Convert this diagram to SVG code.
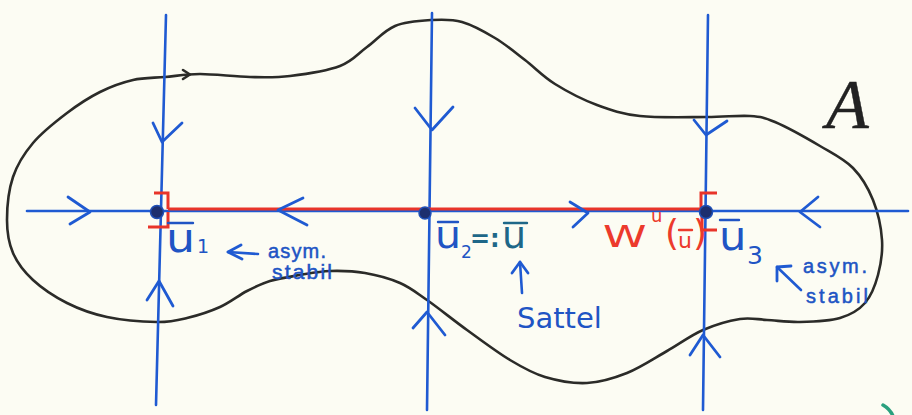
<svg xmlns="http://www.w3.org/2000/svg" width="912" height="415" viewBox="0 0 912 415">
  <style>
    .ax { stroke: #1f5ad2; stroke-width: 2.6; fill: none; stroke-linecap: round; stroke-linejoin: round; }
    .chev { stroke: #1f5ad2; stroke-width: 2.8; fill: none; stroke-linecap: round; stroke-linejoin: round; }
    .red { stroke: #e8342a; stroke-width: 3; fill: none; stroke-linecap: butt; stroke-linejoin: miter; }
    .curve { stroke: #2b2b28; stroke-width: 2.6; fill: none; stroke-linecap: round; stroke-linejoin: round; }
    .dot { fill: #1d2f6e; stroke: #1f4fb5; stroke-width: 1.5; }
    .lbl { font-family: "DejaVu Sans", "Liberation Sans", sans-serif; fill: #2054c4; }
    .lblt { font-family: "DejaVu Sans", "Liberation Sans", sans-serif; fill: #1e6788; }
    .rlbl { font-family: "DejaVu Sans", "Liberation Sans", sans-serif; fill: #ec3a2c; }
    .sm { font-family: "Liberation Sans", "DejaVu Sans", sans-serif; fill: #2054c4; stroke: #2054c4; stroke-width: 0.5; }
    .bar { stroke: #2054c4; stroke-width: 2.4; stroke-linecap: round; }
  </style>
  <rect x="0" y="0" width="912" height="415" fill="#fcfcf3"/>

  <!-- region A boundary -->
  <g id="regionA">
    <path class="curve" d="M165,77 C176.2,76 185.8,74 200,74 C214.2,74 235,76.7 250,77 C265,77.3 275,77.8 290,76 C305,74.2 327.2,70.8 340,66 C352.8,61.2 357.8,53.7 367,47 C376.2,40.3 384.2,30.5 395,26 C405.8,21.5 420.8,20.7 432,20 C443.2,19.3 451.5,19 462,22 C472.5,25 484.5,31.7 495,38 C505.5,44.3 515,52.3 525,60 C535,67.7 543,76.5 555,84 C567,91.5 582.8,99.7 597,105 C611.2,110.3 621.7,114 640,116 C658.3,118 688.7,117 707,117 C725.3,117 738.7,115.2 750,116 C761.3,116.8 763.3,117 775,122 C786.7,127 807,138.3 820,146 C833,153.7 844.2,159 853,168 C861.8,177 868.2,188 873,200 C877.8,212 881.2,227.5 882,240 C882.8,252.5 880.8,264.5 878,275 C875.2,285.5 871.3,295.8 865,303 C858.7,310.2 850.8,314.8 840,318 C829.2,321.2 812.2,321.7 800,322 C787.8,322.3 777,320.5 767,320 C757,319.5 750.7,317.3 740,319 C729.3,320.7 715.2,324.7 703,330 C690.8,335.3 679.7,343.8 667,351 C654.3,358.2 640.3,367.7 627,373 C613.7,378.3 600.7,382.3 587,383 C573.3,383.7 557.8,380.8 545,377 C532.2,373.2 523,367.8 510,360 C497,352.2 480.8,340 467,330 C453.2,320 438.2,307.8 427,300 C415.8,292.2 410.3,287.5 400,283 C389.7,278.5 376.7,275 365,273 C353.3,271 340.8,270.7 330,271 C319.2,271.3 310,273.3 300,275 C290,276.7 278.8,278.3 270,281 C261.2,283.7 255.3,286.7 247,291 C238.7,295.3 230,302.5 220,307 C210,311.5 197.5,315.5 187,318 C176.5,320.5 170.3,322.2 157,322 C143.7,321.8 122,320.2 107,317 C92,313.8 79.3,309.2 67,303 C54.7,296.8 42,288.3 33,280 C24,271.7 17.3,263 13,253 C8.7,243 7,232.7 7,220 C7,207.3 8.7,189.8 13,177 C17.3,164.2 24,153.7 33,143 C42,132.3 55.8,121.5 67,113 C78.2,104.5 89,97.5 100,92 C111,86.5 122.2,82.5 133,80 C143.8,77.5 153.8,78 165,77 Z"/>
    <polyline class="curve" points="183,70 190,74.5 183,79"/>
    <text x="826" y="128" font-family="Liberation Serif, serif" font-style="italic" font-size="70" fill="#222" stroke="#222" stroke-width="0.4">A</text>
  </g>

  <!-- connectors: axes, unstable manifold and flow arrows -->
  <g id="connectors">
    <line class="ax" x1="27" y1="211" x2="908" y2="211"/>
    <line class="ax" x1="166" y1="15" x2="156" y2="405"/>
    <line class="ax" x1="432" y1="13" x2="427" y2="410"/>
    <line class="ax" x1="708" y1="15" x2="703" y2="410"/>
    <line class="red" x1="168" y1="209" x2="702" y2="209"/>
    <polyline class="red" points="154,193 168,193 168,209"/>
    <polyline class="red" points="168,212 168,227 148,227"/>
    <polyline class="red" points="717,193 701,193 701,209"/>
    <polyline class="red" points="702,213 702,230 717,230"/>
    <polyline class="chev" points="68,197 90,212 70,224"/>
    <polyline class="chev" points="303,198 278,210 307,225"/>
    <polyline class="chev" points="570,202 588,213 573,227"/>
    <polyline class="chev" points="818,197 800,212 820,227"/>
    <polyline class="chev" points="153,123 162,142 182,123"/>
    <polyline class="chev" points="147,300 159,281 173,306"/>
    <polyline class="chev" points="415,108 432,130 453,107"/>
    <polyline class="chev" points="413,328 427,312 445,335"/>
    <polyline class="chev" points="694,120 706,135 727,121"/>
    <polyline class="chev" points="690,355 703,335 720,357"/>
  </g>

  <g id="u1">
    <circle class="dot" cx="157" cy="212" r="6.5"/>
    <line class="bar" x1="168" y1="223" x2="193" y2="223"/>
    <text class="lbl" transform="translate(166,252) scale(1.12,1)" font-size="41">u</text>
    <text class="lbl" x="197" y="253" font-size="19">1</text>
    <polyline class="chev" points="241,245 228,252 242,259"/>
    <line class="ax" x1="228" y1="252" x2="258" y2="254"/>
    <text class="sm" x="268" y="258" font-size="20" textLength="58">asym.</text>
    <text class="sm" x="272" y="279" font-size="21" textLength="60">stabil</text>
  </g>

  <g id="u2">
    <circle class="dot" cx="425" cy="213" r="6"/>
    <line class="bar" x1="438" y1="222" x2="458" y2="222"/>
    <text class="lbl" transform="translate(435,248) scale(1.08,1)" font-size="38">u</text>
    <text class="lbl" x="461" y="258" font-size="17">2</text>
    <text class="lblt" x="470" y="247" font-size="24" font-weight="bold">=:</text>
    <line class="bar" x1="504" y1="223" x2="527" y2="223" style="stroke:#1e6788"/>
    <text class="lblt" x="502" y="248" font-size="38">u</text>
    <polyline class="chev" points="512,273 520,262 528,273"/>
    <line class="ax" x1="520" y1="262" x2="522" y2="293"/>
    <text class="lbl" x="517" y="328" font-size="29" font-family="Liberation Sans, sans-serif">Sattel</text>
  </g>

  <g id="u3">
    <circle class="dot" cx="706" cy="212" r="6.5"/>
    <text class="rlbl" transform="translate(603,247) scale(1.42,1)" font-size="31">W</text>
    <text class="rlbl" x="651" y="222" font-size="18">u</text>
    <text class="rlbl" x="665" y="245" font-size="36" font-family="Liberation Sans, sans-serif">(</text>
    <line x1="679" y1="230" x2="692" y2="230" stroke="#ec3a2c" stroke-width="2.4" stroke-linecap="round"/>
    <text class="rlbl" x="678" y="248" font-size="22">u</text>
    <text class="rlbl" x="693" y="245" font-size="36" font-family="Liberation Sans, sans-serif">)</text>
    <line class="bar" x1="720" y1="220" x2="739" y2="220"/>
    <text class="lbl" transform="translate(719,250) scale(1.08,1)" font-size="40">u</text>
    <text class="lbl" x="747" y="264" font-size="25">3</text>
    <polyline class="chev" points="777,281 777,267 791,266"/>
    <line class="ax" x1="777" y1="267" x2="801" y2="290"/>
    <text class="sm" x="803" y="273" font-size="20" textLength="64">asym.</text>
    <text class="sm" x="806" y="303" font-size="20" textLength="62">stabil</text>
  </g>

  <path d="M883,405 Q890,409 893,416" stroke="#2aa07e" stroke-width="3.5" fill="none" stroke-linecap="round"/>
</svg>
